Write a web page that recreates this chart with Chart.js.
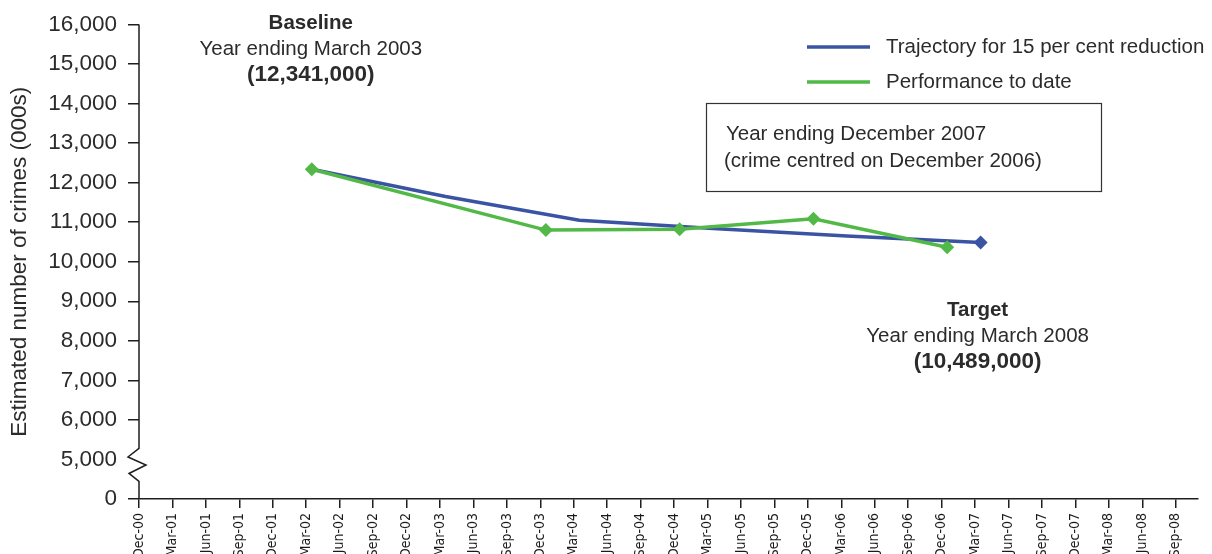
<!DOCTYPE html>
<html>
<head>
<meta charset="utf-8">
<script src="https://cdn.jsdelivr.net/npm/chart.js@4.4.1/dist/chart.umd.min.js"></script>
<style>
  html, body { margin: 0; padding: 0; background: #ffffff; overflow: hidden; }
  #wrap { width: 1212px; height: 554px; position: relative; }
  canvas { display: block; }
</style>
</head>
<body>
<div id="wrap"><canvas id="crimeChart" width="1212" height="554"></canvas></div>
<script>
// Quarter-end tick labels along the time axis (every three months from Dec-00)
const quarterLabels = [
  'Dec-00', 'Mar-01', 'Jun-01', 'Sep-01', 'Dec-01', 'Mar-02', 'Jun-02', 'Sep-02',
  'Dec-02', 'Mar-03', 'Jun-03', 'Sep-03', 'Dec-03', 'Mar-04', 'Jun-04', 'Sep-04',
  'Dec-04', 'Mar-05', 'Jun-05', 'Sep-05', 'Dec-05', 'Mar-06', 'Jun-06', 'Sep-06',
  'Dec-06', 'Mar-07', 'Jun-07', 'Sep-07', 'Dec-07', 'Mar-08', 'Jun-08', 'Sep-08'
];

// Trajectory for a 15 per cent reduction (thousands of crimes)
const trajectoryPeriods = ['Mar-02', 'Mar-03', 'Mar-04', 'Mar-05', 'Mar-06', 'Mar-07'];
const trajectoryValues  = [12341, 11650, 11050, 10840, 10650, 10489];

// Recorded performance to date (thousands of crimes)
const performancePeriods = ['Mar-02', 'Dec-03', 'Dec-04', 'Dec-05', 'Dec-06'];
const performanceValues  = [12341, 10800, 10825, 11085, 10365];

// Y axis: broken axis, the lowest gridline stands for zero
const yTickValues = [4000, 5000, 6000, 7000, 8000, 9000, 10000, 11000, 12000, 13000, 14000, 15000, 16000];
const yTickLabels = ['0', '5,000', '6,000', '7,000', '8,000', '9,000', '10,000', '11,000', '12,000', '13,000', '14,000', '15,000', '16,000'];

const MONTHS = { Jan: 0, Feb: 1, Mar: 2, Apr: 3, May: 4, Jun: 5, Jul: 6, Aug: 7, Sep: 8, Oct: 9, Nov: 10, Dec: 11 };
// months since Dec-00
function monthIndex(label) {
  const [m, yy] = label.split('-');
  return (2000 + Number(yy)) * 12 + MONTHS[m] - (2000 * 12 + 11);
}
// each observation sits in the middle of its month
function monthPos(label) { return monthIndex(label) + 0.5; }

const INK = '#2b2b2b';
const AXIS = '#1e1e1e';
const BLUE = '#3b53a3';
const GREEN = '#52b848';
const FONT = "'Liberation Sans', Arial, sans-serif";
const NARROW = "'Liberation Sans Narrow', 'Arial Narrow', 'DejaVu Sans Condensed', 'Liberation Sans', sans-serif";

const fmtThousands = v => '(' + (v * 1000).toLocaleString('en-GB') + ')';

const trajectoryData = trajectoryPeriods.map((p, i) => ({ x: monthPos(p), y: trajectoryValues[i] }));
const performanceData = performancePeriods.map((p, i) => ({ x: monthPos(p), y: performanceValues[i] }));

// Axis line with a zig-zag break between 0 and 5,000
const axisBreak = {
  id: 'axisBreak',
  afterDraw(chart) {
    const { ctx, chartArea, scales: { y } } = chart;
    const x0 = chartArea.left;
    const top = y.getPixelForValue(16000);
    const bottom = y.getPixelForValue(4000);
    const mid = y.getPixelForValue(5000);
    ctx.save();
    ctx.strokeStyle = AXIS;
    ctx.lineWidth = 1.5;
    ctx.lineJoin = 'miter';
    ctx.beginPath();
    ctx.moveTo(x0, top);
    ctx.lineTo(x0, mid - 11);
    ctx.lineTo(x0 - 11, mid - 2.5);
    ctx.lineTo(x0 + 7, mid + 5.5);
    ctx.lineTo(x0 - 10, mid + 14);
    ctx.lineTo(x0, mid + 22);
    ctx.lineTo(x0, bottom);
    ctx.stroke();
    ctx.restore();
  }
};

function drawStack(ctx, lines, cx, firstY, step) {
  lines.forEach((ln, i) => {
    ctx.font = (ln.bold ? 'bold ' : '') + ln.size + 'px ' + FONT;
    ctx.fillText(ln.text, cx, firstY + i * step);
  });
}

// Notes, callout box and legend
const notes = {
  id: 'notes',
  afterDraw(chart) {
    const { ctx, scales: { x } } = chart;
    ctx.save();
    ctx.fillStyle = INK;
    ctx.textAlign = 'center';
    ctx.textBaseline = 'middle';

    const bx = x.getPixelForValue(trajectoryData[0].x) - 1;
    drawStack(ctx, [
      { text: 'Baseline', bold: true, size: 20.5 },
      { text: 'Year ending March 2003', size: 20.5 },
      { text: fmtThousands(trajectoryValues[0]), bold: true, size: 22.5 }
    ], bx, 23, 26);

    const last = trajectoryData[trajectoryData.length - 1];
    const tx = x.getPixelForValue(last.x) - 3;
    drawStack(ctx, [
      { text: 'Target', bold: true, size: 20.5 },
      { text: 'Year ending March 2008', size: 20.5 },
      { text: fmtThousands(trajectoryValues[trajectoryValues.length - 1]), bold: true, size: 22.5 }
    ], tx, 310, 26);

    // callout box
    ctx.strokeStyle = '#333333';
    ctx.lineWidth = 1.2;
    ctx.strokeRect(706.5, 103.5, 395, 88);
    ctx.textAlign = 'left';
    ctx.font = '20.5px ' + FONT;
    ctx.fillText('Year ending December 2007', 726, 134);
    ctx.fillText('(crime centred on December 2006)', 724, 161);

    // legend
    const items = [chart.data.datasets[1], chart.data.datasets[0]];
    items.forEach((ds, i) => {
      const ly = 47 + i * 35;
      ctx.strokeStyle = ds.borderColor;
      ctx.lineWidth = 3.5;
      ctx.beginPath();
      ctx.moveTo(807, ly);
      ctx.lineTo(870, ly);
      ctx.stroke();
      ctx.fillStyle = INK;
      ctx.font = '20.5px ' + FONT;
      ctx.fillText(ds.label, 886, ly);
    });
    ctx.restore();
  }
};

Chart.defaults.font.family = FONT;
Chart.defaults.color = INK;

new Chart(document.getElementById('crimeChart'), {
  type: 'line',
  data: {
    datasets: [
      {
        label: 'Performance to date',
        data: performanceData,
        borderColor: GREEN,
        backgroundColor: GREEN,
        borderWidth: 3.5,
        pointStyle: 'rectRot',
        pointRadius: 7,
        pointBorderWidth: 0,
        tension: 0,
        order: 0
      },
      {
        label: 'Trajectory for 15 per cent reduction',
        data: trajectoryData,
        borderColor: BLUE,
        backgroundColor: BLUE,
        borderWidth: 3.5,
        pointStyle: 'rectRot',
        pointRadius: ctx => (ctx.dataIndex === trajectoryData.length - 1 ? 7 : 0),
        pointBorderWidth: 0,
        tension: 0,
        order: 1
      }
    ]
  },
  options: {
    responsive: false,
    animation: false,
    events: [],
    layout: { padding: { top: 22, right: 14, left: 0, bottom: 0 } },
    plugins: { legend: { display: false }, tooltip: { enabled: false } },
    scales: {
      x: {
        type: 'linear',
        min: 0,
        max: 95,
        border: { display: true, color: AXIS, width: 1.5 },
        grid: { drawOnChartArea: false, drawTicks: true, tickLength: 9, color: AXIS, lineWidth: 1.5 },
        ticks: {
          stepSize: 3,
          includeBounds: false,
          autoSkip: false,
          maxRotation: 90,
          minRotation: 90,
          padding: 5,
          color: '#1a1a1a',
          font: { family: NARROW, size: 14 },
          callback: v => quarterLabels[v / 3] ?? ''
        },
        afterFit: s => { s.height = 55; }
      },
      y: {
        type: 'linear',
        min: 4000,
        max: 16000,
        afterBuildTicks: s => { s.ticks = yTickValues.map(v => ({ value: v })); },
        border: { display: false },
        grid: {
          drawOnChartArea: false,
          drawTicks: true,
          tickLength: 11,
          lineWidth: 1.5,
          color: c => (c.tick && c.tick.value === 5000 ? 'rgba(0,0,0,0)' : AXIS)
        },
        ticks: {
          padding: 11,
          color: INK,
          font: { size: 22.5 },
          callback: v => yTickLabels[yTickValues.indexOf(v)]
        },
        title: {
          display: true,
          text: 'Estimated number of crimes (000s)',
          color: INK,
          font: { size: 22.5 },
          padding: { top: 6, bottom: 0 }
        },
        afterFit: s => { s.width = 139; }
      }
    }
  },
  plugins: [axisBreak, notes]
});
</script>
</body>
</html>
